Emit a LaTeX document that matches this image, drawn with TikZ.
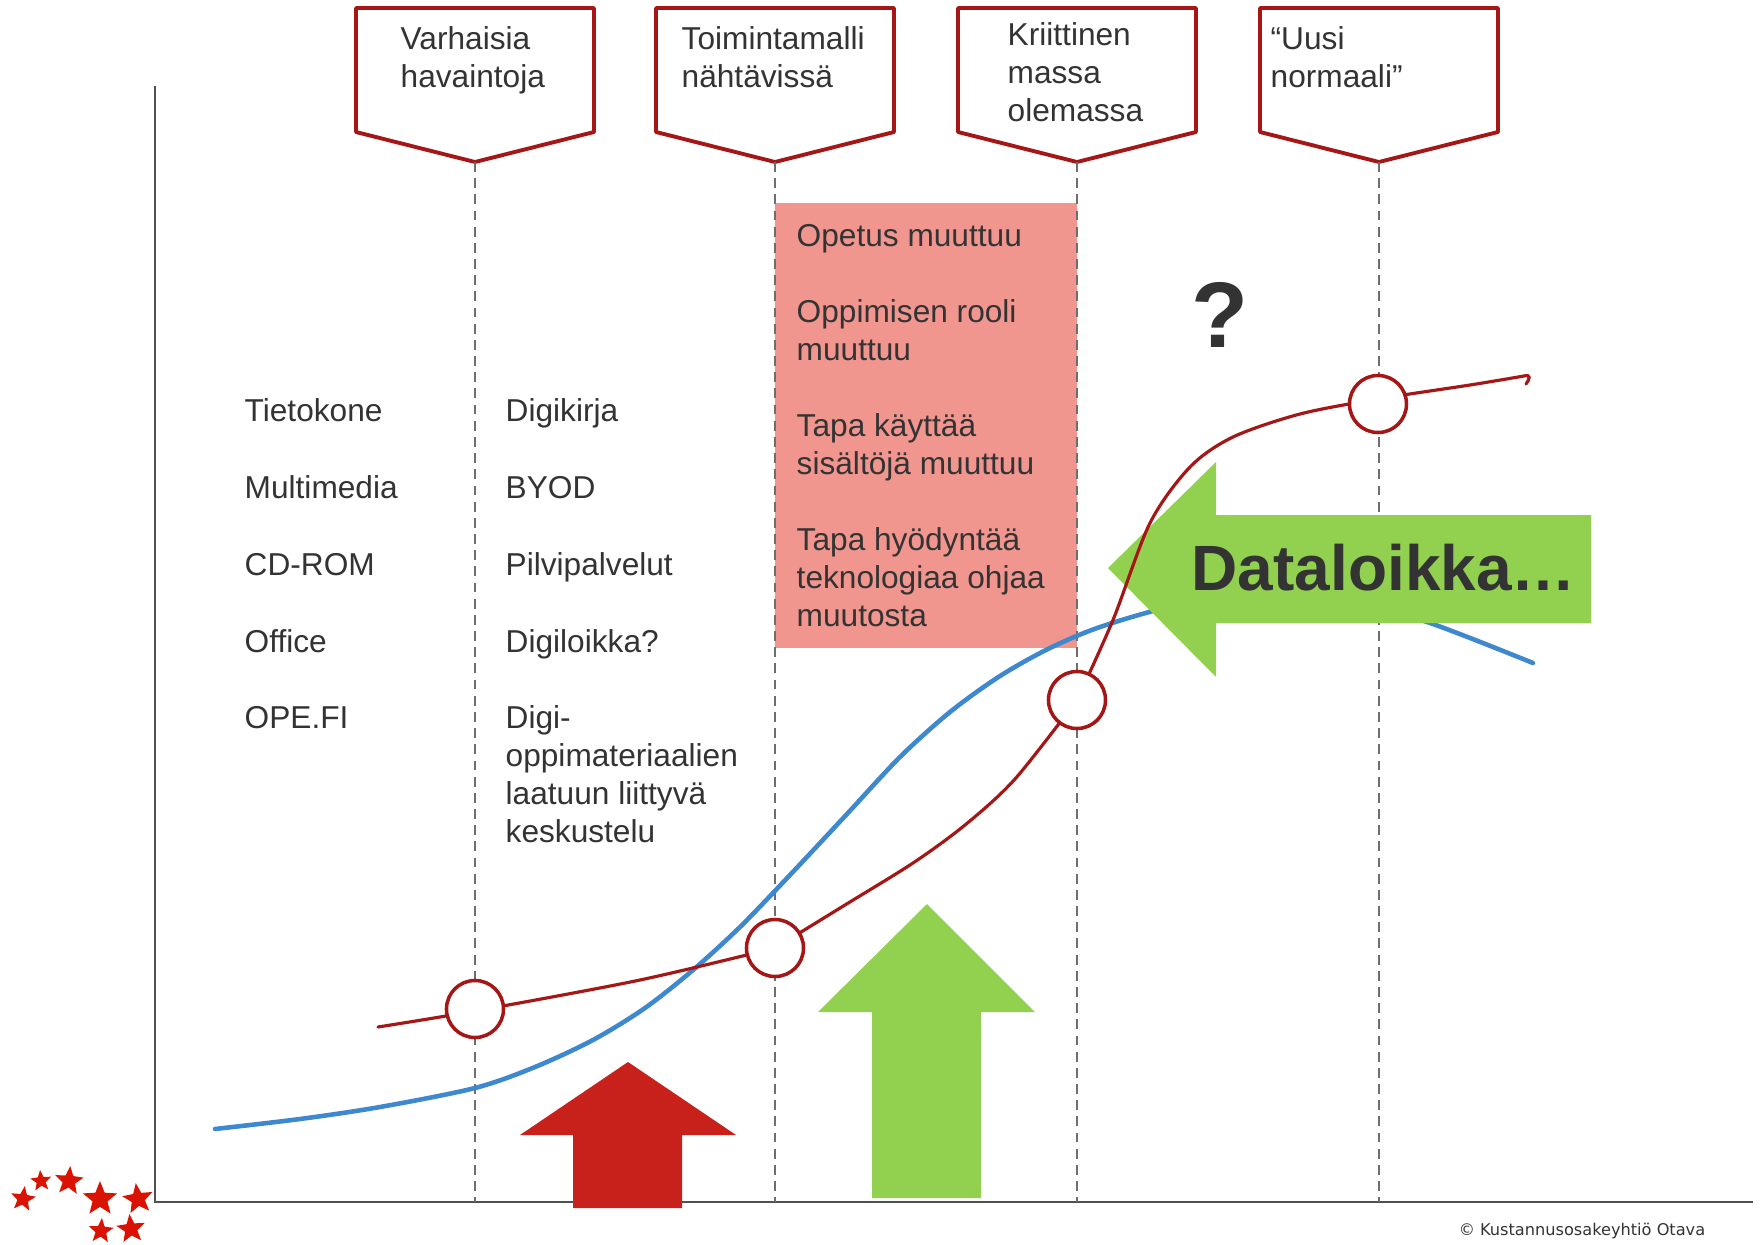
\documentclass[tikz,border=0pt]{standalone}
\usepackage{fontspec}
\setmainfont{Liberation Sans}
\newfontfamily\notefont{DejaVu Sans}
\usetikzlibrary{shapes.geometric}

\definecolor{linered}{RGB}{165,22,22}
\definecolor{arrowred}{RGB}{200,32,26}
\definecolor{notepink}{RGB}{241,149,143}
\definecolor{leafgreen}{RGB}{146,208,80}
\definecolor{curveblue}{RGB}{61,136,206}
\definecolor{ink}{RGB}{51,51,51}
\definecolor{axisgrey}{RGB}{80,80,80}
\definecolor{dashgrey}{RGB}{110,110,110}
\definecolor{starred}{RGB}{218,18,0}

\begin{document}
\begin{tikzpicture}[x=0.01cm, y=-0.01cm,
	txt/.style={anchor=base west, inner sep=0, align=left, text=ink, font=\fontsize{9}{10.8}\selectfont},
	phase/.style={draw=linered, line width=1.1pt, fill=white, line join=round},
	curvered/.style={linered, line width=0.9pt, line cap=round},
	milestone/.style={circle, draw=linered, line width=1pt, fill=white, minimum size=0.57cm, inner sep=0},
	starry/.style={star, star points=5, star point ratio=2.3, fill=starred, inner sep=0}]
	\useasboundingbox (0,0) rectangle (1762,1245);

	% axes
	\draw[axisgrey, line width=0.8pt] (155,86) -- (155,1202) -- (1753,1202);

	% phase boxes (base = last line)
	\foreach \cx in {475,775,1077,1379}
		\draw[phase] (\cx-119,8) -- (\cx+119,8) -- (\cx+119,132) -- (\cx,162) -- (\cx-119,132) -- cycle;
	\node[txt] (p1) at (400,87) {Varhaisia\\havaintoja};
	\node[txt] (p2) at (681,87) {Toimintamalli\\nähtävissä};
	\node[txt] (p3) at (1007,121) {Kriittinen\\massa\\olemassa};
	\node[txt] (p4) at (1270,87) {“Uusi\\normaali”};

	% change box
	\fill[notepink] (775,203) rectangle (1077,648);
	\node[txt] (chg) at (796,626) {Opetus muuttuu\\[10.8pt]Oppimisen rooli\\muuttuu\\[10.8pt]Tapa käyttää\\sisältöjä muuttuu\\[10.8pt]Tapa hyödyntää\\teknologiaa ohjaa\\muutosta};

	\foreach \cx in {475,775,1077,1379}
		\draw[dashgrey, line width=0.7pt, dash pattern=on 2.8pt off 1.8pt] (\cx,162) -- (\cx,1202);

	% curves
	\draw[curveblue, line width=1.3pt, line cap=round] plot[smooth] coordinates {(215,1129) (300,1119) (380,1107) (475,1088) (535,1067) (593,1040) (645,1008) (693,970) (740,927) (790,875) (847,814) (900,757) (950,712) (1000,676) (1050,648) (1103,626) (1180,605) (1270,598) (1360,605) (1430,623) (1533,663)};

	\fill[leafgreen] (1108,568) -- (1216,462) -- (1216,515) -- (1591,515) -- (1591,623) -- (1216,623) -- (1216,677) -- cycle;

	\draw[curvered] plot[smooth] coordinates {(378,1027) (475,1011) (640,980) (775,948)};
	\draw[curvered] plot[smooth] coordinates {(775,948) (845,905) (913,863) (965,825) (1015,779) (1077,700)};
	\draw[curvered] plot[smooth] coordinates {(1077,700) (1113,620) (1150,523) (1190,467) (1233,437) (1300,414) (1378,399) (1470,385) (1524,376)} .. controls (1531,374) and (1530,379) .. (1526,384);

	\node[milestone] (m1) at (475,1009) {};
	\node[milestone] (m2) at (775,948) {};
	\node[milestone] (m3) at (1077,700) {};
	\node[milestone] (m4) at (1378,404) {};

	% lists
	\node[txt] (a1) at (244,421) {Tietokone};
	\node[txt] (a2) at (244,498) {Multimedia};
	\node[txt] (a3) at (244,575) {CD-ROM};
	\node[txt] (a4) at (244,652) {Office};
	\node[txt] (a5) at (244,728) {OPE.FI};
	\node[txt] (b1) at (505,421) {Digikirja};
	\node[txt] (b2) at (505,498) {BYOD};
	\node[txt] (b3) at (505,575) {Pilvipalvelut};
	\node[txt] (b4) at (505,652) {Digiloikka?};
	\node[txt] (b5) at (505,842) {Digi-\\oppimateriaalien\\laatuun liittyvä\\keskustelu};

	% up arrows
	\fill[arrowred] (628,1062) -- (736,1135) -- (682,1135) -- (682,1208) -- (573,1208) -- (573,1135) -- (520,1135) -- cycle;
	\fill[leafgreen] (927,904) -- (1035,1012) -- (981,1012) -- (981,1198) -- (872,1198) -- (872,1012) -- (818,1012) -- cycle;

	\node[anchor=base west, inner sep=0, text=ink, font=\bfseries\fontsize{18.2}{22}\selectfont] (leap) at (1191,590) {Dataloikka…};
	\node[anchor=base, inner sep=0, text=ink, font=\bfseries\fontsize{26.5}{30}\selectfont] (ask) at (1220,347) {?};

	\foreach \sx/\sy/\sd/\sr [count=\i] in {23/1199/0.26/-8, 41/1181/0.22/5, 69/1181/0.30/-5, 100/1199/0.36/0, 138/1199/0.32/8, 101/1231/0.26/-4, 131/1229/0.30/6}
		\node[starry, minimum size=\sd cm, rotate=\sr] (star\i) at (\sx,\sy) {};

	\node[anchor=base, inner sep=0, text=ink, font=\notefont\fontsize{4.6}{5}\selectfont] (copy) at (1582,1235) {© Kustannusosakeyhtiö Otava};
\end{tikzpicture}
\end{document}
